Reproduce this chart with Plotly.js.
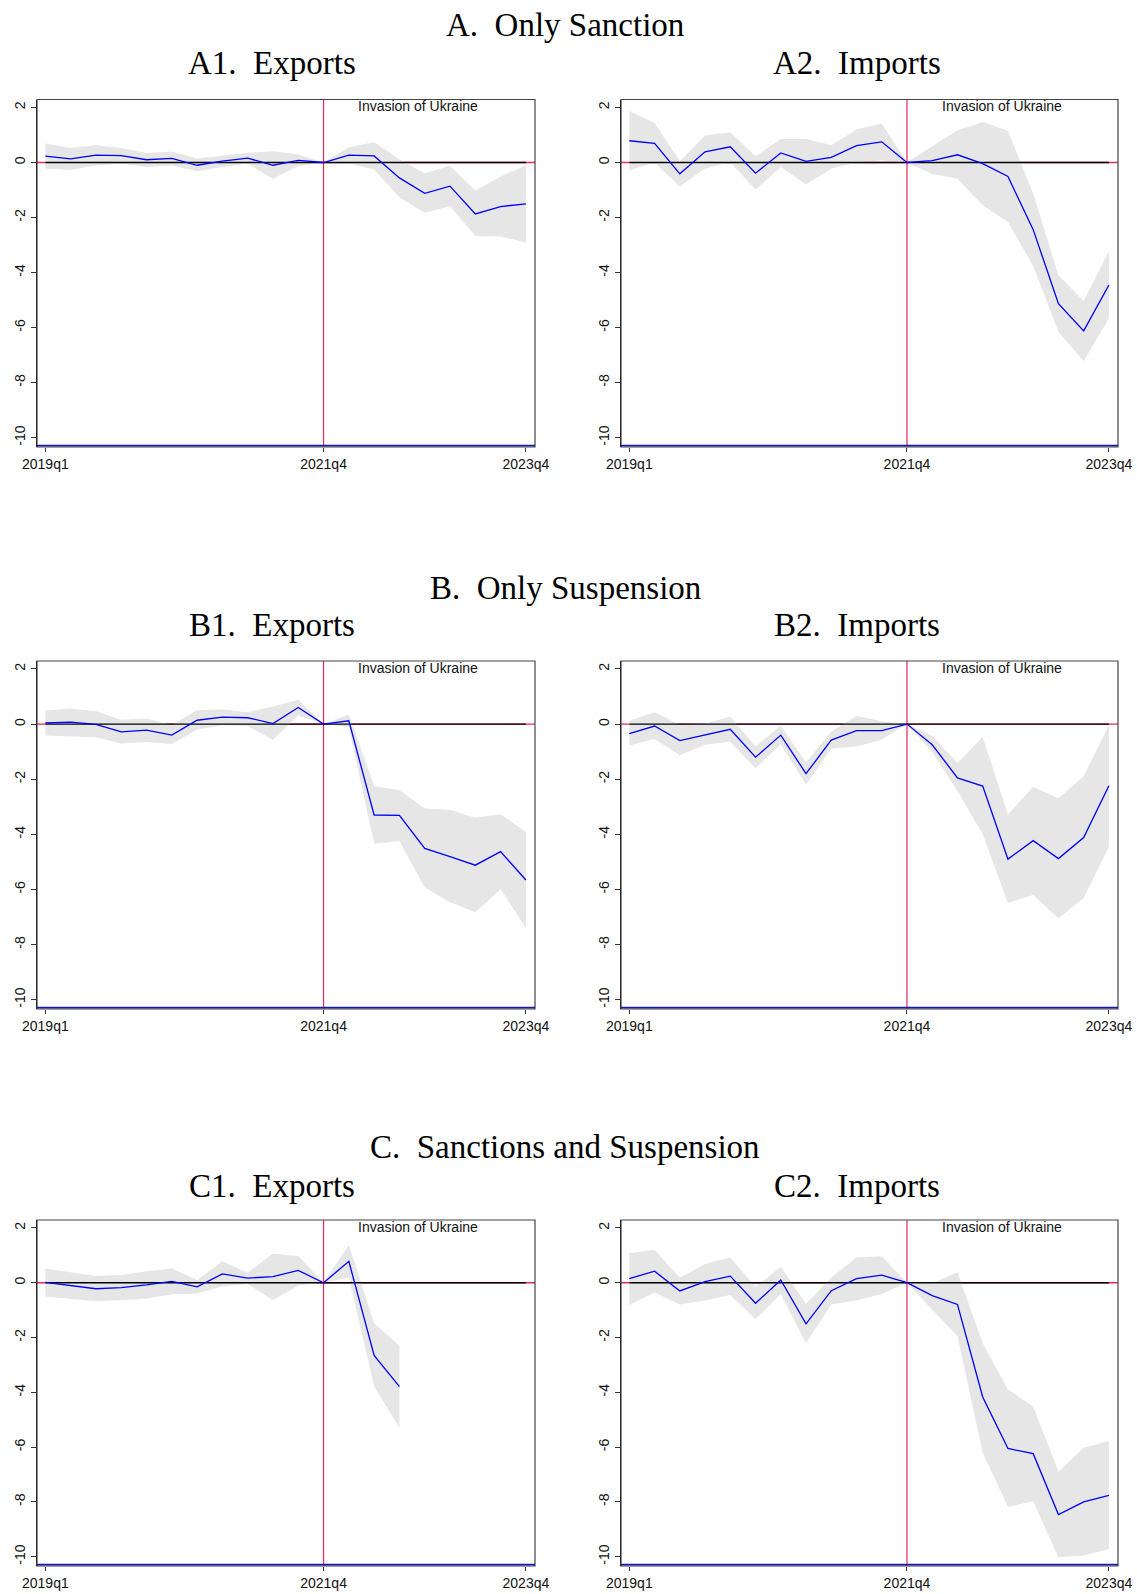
<!DOCTYPE html>
<html>
<head>
<meta charset="utf-8">
<script src="https://cdn.plot.ly/plotly-3.0.1.min.js"></script>
<style>html,body{margin:0;padding:0;background:#fff;}#chart{width:1137px;height:1594px;}</style>
</head>
<body>
<div id="chart"></div>
<script>
// ---------- DATA ----------
const quarters = ["2019q1","2019q2","2019q3","2019q4","2020q1","2020q2","2020q3","2020q4",
  "2021q1","2021q2","2021q3","2021q4","2022q1","2022q2","2022q3","2022q4",
  "2023q1","2023q2","2023q3","2023q4"];
const tickQuarters = ["2019q1","2021q4","2023q4"];
const eventQuarter = "2021q4";
const eventLabel = "Invasion of Ukraine";

const groupTitles = ["A.\u00a0 Only Sanction","B.\u00a0 Only Suspension","C.\u00a0 Sanctions and Suspension"];
const panelTitles = [["A1.\u00a0 Exports","A2.\u00a0 Imports"],["B1.\u00a0 Exports","B2.\u00a0 Imports"],["C1.\u00a0 Exports","C2.\u00a0 Imports"]];

// A1. Exports (Only Sanction)
const a1_est   = [0.23,0.13,0.27,0.25,0.10,0.15,-0.10,0.05,0.16,-0.10,0.08,0,0.27,0.24,-0.56,-1.12,-0.86,-1.87,-1.60,-1.50];
const a1_upper = [0.69,0.53,0.63,0.53,0.35,0.40,0.15,0.25,0.35,0.41,0.29,0,0.55,0.74,0.12,-0.39,-0.12,-1.03,-0.51,-0.10];
const a1_lower = [-0.22,-0.27,-0.11,-0.04,-0.16,-0.11,-0.32,-0.16,-0.04,-0.59,-0.13,0,-0.04,-0.25,-1.27,-1.83,-1.59,-2.67,-2.69,-2.91];
// A2. Imports (Only Sanction)
const a2_est   = [0.79,0.70,-0.41,0.39,0.57,-0.39,0.35,0.04,0.19,0.61,0.75,0,0.07,0.28,-0.04,-0.51,-2.44,-5.13,-6.12,-4.45];
const a2_upper = [1.87,1.44,0.05,0.98,1.10,0.23,0.85,0.85,0.63,1.20,1.42,0,0.59,1.16,1.47,1.15,-1.13,-4.10,-5.03,-3.22];
const a2_lower = [-0.28,-0.01,-0.87,-0.22,0.01,-0.99,-0.16,-0.80,-0.22,0.00,0.08,0,-0.42,-0.59,-1.55,-2.16,-3.76,-6.16,-7.21,-5.67];
// B1. Exports (Only Suspension)
const b1_est   = [0.04,0.07,-0.01,-0.28,-0.22,-0.40,0.14,0.25,0.23,0.02,0.60,0,0.12,-3.30,-3.31,-4.51,-4.81,-5.12,-4.63,-5.66];
const b1_upper = [0.49,0.57,0.47,0.16,0.20,-0.04,0.51,0.53,0.43,0.64,0.88,0,0.35,-2.25,-2.40,-3.06,-3.11,-3.40,-3.27,-3.92];
const b1_lower = [-0.41,-0.45,-0.48,-0.70,-0.65,-0.72,-0.20,-0.04,-0.07,-0.57,0.31,0,-0.11,-4.34,-4.24,-5.93,-6.47,-6.83,-5.99,-7.39];
// B2. Imports (Only Suspension)
const b2_est   = [-0.35,-0.07,-0.60,-0.40,-0.19,-1.20,-0.40,-1.80,-0.58,-0.24,-0.24,0,-0.75,-1.95,-2.25,-4.90,-4.23,-4.88,-4.12,-2.24];
const b2_upper = [0.12,0.43,-0.02,0.02,0.27,-0.81,-0.06,-1.39,-0.27,0.30,0.10,0,-0.42,-1.41,-0.47,-3.28,-2.27,-2.69,-1.89,-0.04];
const b2_lower = [-0.78,-0.54,-1.13,-0.75,-0.64,-1.60,-0.73,-2.19,-0.89,-0.81,-0.57,0,-1.02,-2.43,-4.00,-6.49,-6.20,-7.05,-6.31,-4.45];
// C1. Exports (Sanctions and Suspension)
const c1_est   = [0.01,-0.11,-0.22,-0.18,-0.08,0.05,-0.15,0.32,0.17,0.22,0.45,0,0.78,-2.65,-3.79,null,null,null,null,null];
const c1_upper = [0.52,0.39,0.25,0.28,0.42,0.52,0.10,0.78,0.36,1.07,0.98,0,1.38,-1.48,-2.30,null,null,null,null,null];
const c1_lower = [-0.50,-0.58,-0.68,-0.64,-0.58,-0.42,-0.39,-0.13,-0.05,-0.63,-0.10,0,0.19,-3.78,-5.30,null,null,null,null,null];
// C2. Imports (Sanctions and Suspension)
const c2_est   = [0.15,0.42,-0.30,0.04,0.24,-0.75,0.10,-1.50,-0.29,0.15,0.28,0,-0.47,-0.79,-4.17,-6.05,-6.24,-8.46,-8.00,-7.76];
const c2_upper = [1.08,1.20,0.18,0.68,0.92,-0.15,0.58,-0.78,0.19,0.92,0.97,0,-0.02,0.38,-2.21,-3.90,-4.52,-6.90,-6.02,-5.78];
const c2_lower = [-0.81,-0.36,-0.79,-0.65,-0.45,-1.33,-0.41,-2.21,-0.79,-0.65,-0.41,0,-0.99,-1.94,-6.21,-8.18,-7.98,-10.02,-9.96,-9.72];

const yTicks = [-10,-8,-6,-4,-2,0,2];

// ---------- BUILD ----------
const panels = [
  [ {est:a1_est, up:a1_upper, lo:a1_lower}, {est:a2_est, up:a2_upper, lo:a2_lower} ],
  [ {est:b1_est, up:b1_upper, lo:b1_lower}, {est:b2_est, up:b2_upper, lo:b2_lower} ],
  [ {est:c1_est, up:c1_upper, lo:c1_lower}, {est:c2_est, up:c2_upper, lo:c2_lower} ]
];

const W = 1137, H = 1594;
const colPx = [[37,535],[621,1118]];
const rowPx = [[99.5,447],[661,1009],[1220,1566]];
const groupTitleY = [25,588,1147];
const panelTitleY = [63,625,1186];
const panelTitleX = [272,857];

const xIdx = quarters.map((q,i)=>i);
const evIdx = quarters.indexOf(eventQuarter);
const tickVals = tickQuarters.map(q=>quarters.indexOf(q));

const traces = [], annotations = [], shapes = [];
const layout = {
  width: W, height: H,
  margin: {l:0,r:0,t:0,b:0},
  paper_bgcolor: '#ffffff', plot_bgcolor: '#ffffff',
  showlegend: false,
  font: {family: 'Liberation Sans, Arial, sans-serif', size: 14, color: '#000'}
};

const tickFont = {family: 'Liberation Sans, Arial, sans-serif', size: 14, color: '#111'};
const serif = {family: 'Liberation Serif, Times New Roman, serif', size: 33, color: '#000'};

let k = 0;
for (let r = 0; r < 3; r++) {
  annotations.push({text: groupTitles[r], xref:'paper', yref:'paper', x: 565/W, y: 1 - groupTitleY[r]/H,
    xanchor:'center', yanchor:'middle', showarrow:false, font: serif});
  for (let c = 0; c < 2; c++) {
    k++;
    const xa = k === 1 ? 'xaxis' : 'xaxis' + k;
    const ya = k === 1 ? 'yaxis' : 'yaxis' + k;
    const xr = k === 1 ? 'x' : 'x' + k;
    const yr = k === 1 ? 'y' : 'y' + k;
    const p = panels[r][c];

    layout[xa] = {
      domain: [colPx[c][0]/W, colPx[c][1]/W], anchor: yr,
      range: [-0.33, 19.36], showgrid:false, zeroline:false, showline:false,
      tickmode:'array', tickvals: tickVals, ticktext: tickQuarters,
      ticks:'outside', ticklen:4, tickcolor:'#333', tickwidth:1,
      tickfont: tickFont, fixedrange:true
    };
    layout[ya] = {
      domain: [1 - rowPx[r][1]/H, 1 - rowPx[r][0]/H], anchor: xr,
      range: [-10.34, 2.29], showgrid:false, zeroline:false, showline:true, linecolor:'#000', linewidth:1,
      tickmode:'array', tickvals: yTicks, ticktext: yTicks.map(String),
      ticks:'outside', ticklen:5, tickcolor:'#333', tickwidth:1,
      tickangle:-90, tickfont: tickFont, fixedrange:true
    };

    // confidence band
    traces.push({x:xIdx, y:p.lo, xaxis:xr, yaxis:yr, type:'scatter', mode:'lines',
      line:{width:0, color:'rgba(0,0,0,0)'}, hoverinfo:'skip'});
    traces.push({x:xIdx, y:p.up, xaxis:xr, yaxis:yr, type:'scatter', mode:'lines',
      line:{width:0, color:'rgba(0,0,0,0)'}, fill:'tonexty', fillcolor:'#e6e6e6', hoverinfo:'skip'});
    // zero reference line over the sample
    traces.push({x:xIdx, y:xIdx.map(()=>0), xaxis:xr, yaxis:yr, type:'scatter', mode:'lines',
      line:{width:1.3, color:'#000'}, hoverinfo:'skip'});
    // point estimates
    traces.push({x:xIdx, y:p.est, xaxis:xr, yaxis:yr, type:'scatter', mode:'lines',
      line:{width:1.3, color:'#0000ff'}, connectgaps:false});

    // red reference lines
    shapes.push({type:'line', xref:xr, yref: yr + ' domain', x0: evIdx, x1: evIdx, y0:0, y1:1,
      line:{color:'#e8285a', width:1.2}, layer:'below'});
    shapes.push({type:'line', xref: xr + ' domain', yref: yr, x0:0, x1:1, y0:0, y1:0,
      line:{color:'#e8285a', width:1.3}, layer:'below'});
    // frame
    shapes.push({type:'rect', xref: xr + ' domain', yref: yr + ' domain', x0:0, x1:1, y0:0, y1:1,
      line:{color:'#444', width:1.2}, fillcolor:'rgba(0,0,0,0)', layer:'above'});
    shapes.push({type:'line', xref: xr + ' domain', yref: yr + ' domain', x0:0, x1:1, y0:0.004, y1:0.004,
      line:{color:'#1a1aa8', width:1.6}, layer:'above'});

    annotations.push({text: panelTitles[r][c], xref:'paper', yref:'paper', x: panelTitleX[c]/W, y: 1 - panelTitleY[r]/H,
      xanchor:'center', yanchor:'middle', showarrow:false, font: serif});
    annotations.push({text: eventLabel, xref: xr, yref: yr + ' domain', x: 12.3, y: 0.981,
      xanchor:'left', yanchor:'middle', showarrow:false, font:{family:'Liberation Sans, Arial, sans-serif', size:14, color:'#111'}});
  }
}
layout.annotations = annotations;
layout.shapes = shapes;

Plotly.newPlot('chart', traces, layout, {staticPlot:true, displayModeBar:false});
</script>
</body>
</html>
